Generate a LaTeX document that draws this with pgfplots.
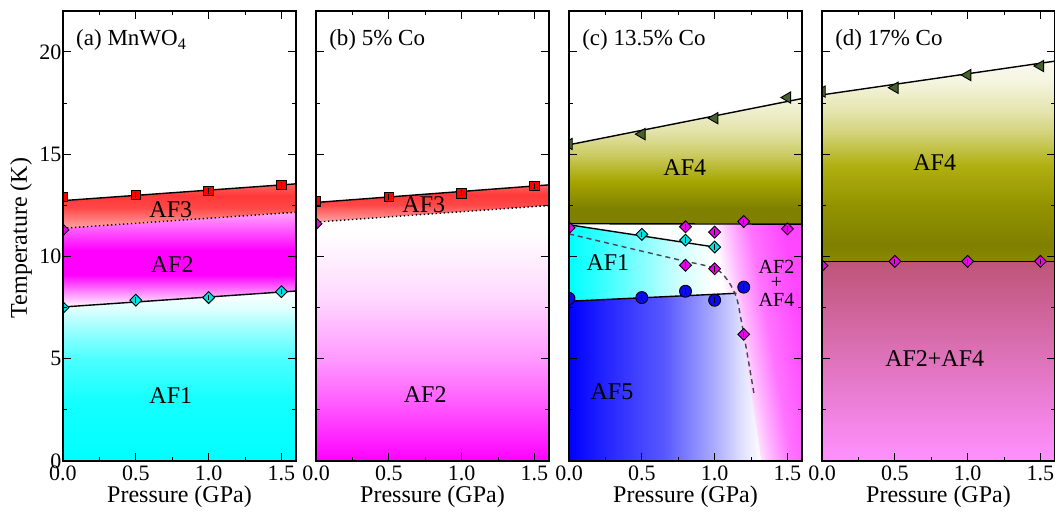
\documentclass[border=0pt]{standalone}
\usepackage{fontspec}
\setmainfont{Liberation Serif}
\usepackage{pgfplots}
\pgfplotsset{compat=1.18}

\definecolor{tri}{RGB}{72,98,44}
\definecolor{blu}{RGB}{10,10,235}
\definecolor{mag}{RGB}{235,0,235}
\definecolor{cyn}{RGB}{0,225,225}
\definecolor{rosetop}{RGB}{190,85,120}
\definecolor{pinkbot}{RGB}{255,145,255}

% vertical shadings: 25bp = bottom of path, 75bp = top of path
\pgfdeclareverticalshading{aAFone}{100bp}{color(0bp)=(cyan); color(25bp)=(cyan); color(43bp)=(cyan!92!white); color(55bp)=(cyan!70!white); color(64bp)=(cyan!38!white); color(70bp)=(cyan!12!white); color(75bp)=(white); color(100bp)=(white)}
\pgfdeclareverticalshading{aAFtwo}{100bp}{color(0bp)=(white); color(25bp)=(white); color(31bp)=(magenta!35!white); color(42bp)=(magenta); color(55bp)=(magenta); color(75bp)=(magenta!35!white); color(100bp)=(magenta!35!white)}
\pgfdeclareverticalshading{AFthree}{100bp}{color(0bp)=(red!35!white); color(25bp)=(red!35!white); color(48bp)=(red!72!white); color(62bp)=(red!78!white); color(75bp)=(red!60!white); color(100bp)=(red!60!white)}
\pgfdeclareverticalshading{bAFtwo}{100bp}{color(0bp)=(magenta); color(25bp)=(magenta); color(37bp)=(magenta!62!white); color(45bp)=(magenta!40!white); color(57bp)=(magenta!15!white); color(70bp)=(white); color(100bp)=(white)}
\pgfdeclareverticalshading{cAFfour}{100bp}{color(0bp)=(olive); color(25bp)=(olive); color(31bp)=(olive); color(42bp)=(olive!70!white); color(53bp)=(olive!40!white); color(62bp)=(olive!22!white); color(75bp)=(olive!8!white); color(100bp)=(olive!8!white)}
\pgfdeclareverticalshading{dAFfour}{100bp}{color(0bp)=(olive!92!white); color(25bp)=(olive!92!white); color(29bp)=(olive); color(39bp)=(olive!85!white); color(49bp)=(olive!62!white); color(57bp)=(olive!35!white); color(62bp)=(olive!22!white); color(70bp)=(olive!8!white); color(75bp)=(olive!4!white); color(100bp)=(olive!4!white)}
% horizontal shadings: 25bp = left of path, 75bp = right of path
\pgfdeclarehorizontalshading{cBack}{100bp}{color(0bp)=(white); color(25bp)=(white); color(60bp)=(white); color(64bp)=(magenta!30!white); color(68bp)=(magenta!55!white); color(75bp)=(magenta!72!white); color(100bp)=(magenta!72!white)}
\pgfdeclarehorizontalshading{cCyan}{100bp}{color(0bp)=(cyan); color(25bp)=(cyan); color(33bp)=(cyan!85!white); color(50bp)=(cyan!48!white); color(63bp)=(cyan!18!white); color(75bp)=(white); color(100bp)=(white)}
\pgfdeclarehorizontalshading{cBlue}{100bp}{color(0bp)=(blue); color(25bp)=(blue); color(35bp)=(blue!85!white); color(50bp)=(blue!65!white); color(62bp)=(blue!35!white); color(70bp)=(blue!12!white); color(75bp)=(white); color(100bp)=(white)}

\tikzset{
 lbl/.style={font=\fontsize{24}{24}\selectfont},
 slbl/.style={font=\fontsize{20}{20}\selectfont},
 ttl/.style={font=\fontsize{23}{23}\selectfont, anchor=west, inner sep=0pt},
}

\pgfplotsset{
 panel/.style={scale only axis, width=233pt, height=450pt,
  xmin=0, xmax=1.6, ymin=0, ymax=22,
  xtick={0,0.5,1,1.5}, xticklabels={0.0,0.5,1.0,1.5}, minor xtick={0.25,0.75,1.25},
  ytick={0,5,10,15,20}, minor ytick={2.5,7.5,12.5,17.5},
  xtick pos=both, ytick pos=both,
  tick align=inside, major tick length=8pt, minor tick length=4pt,
  every tick/.style={black, line width=1pt},
  axis line style={line width=1.6pt},
  axis on top, clip marker paths=true,
  ticklabel style={font=\fontsize{22}{22}\selectfont},
  xticklabel style={yshift=-1pt},
  yticklabel style={xshift=2pt},
  every axis x label/.style={at={(axis description cs:0.5,0)}, yshift=-36pt, anchor=center, font=\fontsize{24}{24}\selectfont},
  every axis y label/.style={at={(axis description cs:0,0.5)}, xshift=-42pt, yshift=-2pt, rotate=90, anchor=center, font=\fontsize{24}{24}\selectfont},
  xlabel={Pressure (GPa)},
  yticklabels={},
 },
 bline/.style={black, line width=1.4pt, mark=none},
 sq/.style={only marks, mark=square*, mark size=4.8pt, mark options={fill=red, draw=black, line width=0.9pt}},
 dia/.style={only marks, mark=square*, mark size=4.2pt, mark options={rotate=45, fill=#1, draw=black, line width=0.9pt}},
 trimark/.style={only marks, mark=triangle*, mark size=6.5pt, mark options={rotate=90, fill=tri, draw=black, line width=0.9pt}},
 circ/.style={only marks, mark=*, mark size=6pt, mark options={fill=blu, draw=black, line width=0.9pt}},
 ebar/.style={only marks, mark=|, mark size=2.8pt, mark options={black, line width=0.8pt}},
}

\begin{document}
\begin{tikzpicture}
\useasboundingbox (0pt,0pt) rectangle (1055pt,512pt);

% ---------------- (a) ----------------
\begin{axis}[panel, at={(63pt,51pt)}, anchor=south west, ylabel={Temperature (K)}, yticklabels={0,5,10,15,20}]
\addplot[draw=none, shade, shading=aAFone] coordinates {(0,0) (0,7.53) (1.6,8.31) (1.6,0)} -- cycle;
\addplot[draw=none, shade, shading=aAFtwo] coordinates {(0,7.53) (1.6,8.31) (1.6,12.16) (0,11.38)} -- cycle;
\addplot[draw=none, shade, shading=AFthree] coordinates {(0,11.38) (1.6,12.16) (1.6,13.55) (0,12.73)} -- cycle;
\addplot[bline] coordinates {(0,12.73) (1.6,13.55)};
\addplot[black, line width=1.4pt, dash pattern=on 1.4pt off 2.6pt] coordinates {(0,11.38) (1.6,12.16)};
\addplot[bline] coordinates {(0,7.53) (1.6,8.31)};
\addplot[sq] coordinates {(0,12.9) (0.5,13.0) (1.0,13.2) (1.5,13.5)};
\addplot[ebar] coordinates {(0,12.9) (0.5,13.0) (1.0,13.2) (1.5,13.5)};
\addplot[dia=mag] coordinates {(0,11.3)};
\addplot[dia=cyn] coordinates {(0,7.5) (0.5,7.86) (1.0,7.99) (1.5,8.28)};
\addplot[ebar] coordinates {(0.5,7.86) (1.0,7.99) (1.5,8.28)};
\node[lbl] at (axis cs:0.74,12.3) {AF3};
\node[lbl] at (axis cs:0.75,9.6) {AF2};
\node[lbl] at (axis cs:0.74,3.2) {AF1};
\node[ttl] at (rel axis cs:0.056,0.936) {(a) MnWO\textsubscript{4}};
\end{axis}

% ---------------- (b) ----------------
\begin{axis}[panel, at={(316pt,51pt)}, anchor=south west]
\addplot[draw=none, shade, shading=bAFtwo] coordinates {(0,0) (1.6,0) (1.6,12.49) (0,11.68)} -- cycle;
\addplot[draw=none, shade, shading=AFthree] coordinates {(0,11.68) (1.6,12.49) (1.6,13.5) (0,12.64)} -- cycle;
\addplot[bline] coordinates {(0,12.64) (1.6,13.5)};
\addplot[black, line width=1.4pt, dash pattern=on 1.4pt off 2.6pt] coordinates {(0,11.68) (1.6,12.49)};
\addplot[sq] coordinates {(0,12.69) (0.5,12.9) (1.0,13.09) (1.5,13.45)};
\addplot[ebar] coordinates {(0,12.69) (0.5,12.9) (1.0,13.09) (1.5,13.45)};
\addplot[dia=mag] coordinates {(0,11.6)};
\node[lbl] at (axis cs:0.74,12.54) {AF3};
\node[lbl] at (axis cs:0.75,3.23) {AF2};
\node[ttl] at (rel axis cs:0.056,0.936) {(b) 5\% Co};
\end{axis}

% ---------------- (c) ----------------
\begin{axis}[panel, at={(569pt,51pt)}, anchor=south west]
\addplot[draw=none, shade, shading=cBack, shading angle=10] coordinates {(0,0) (1.6,0) (1.6,11.6) (0,11.6)} -- cycle;
\addplot[draw=none, shade, shading=cCyan] coordinates {(0,7.81) (1.0,8.15) (1.0,10.46) (0,11.55)} -- cycle;
\addplot[draw=none, shade, shading=cBlue] coordinates {(0,0) (0,7.81) (1.15,8.2) (1.32,0)} -- cycle;
\addplot[draw=none, shade, shading=cAFfour] coordinates {(0,11.6) (1.6,11.6) (1.6,17.72) (0,15.46)} -- cycle;
\addplot[bline] coordinates {(0,15.46) (1.6,17.72)};
\addplot[bline] coordinates {(0,11.6) (1.6,11.58)};
\addplot[bline] coordinates {(0,11.55) (1.0,10.46)};
\addplot[bline] coordinates {(0,7.81) (1.15,8.2)};
\addplot[color={rgb,255:red,70;green,70;blue,80}, line width=1.4pt, dash pattern=on 5pt off 4pt, smooth, tension=0.5] coordinates {(0,11.1) (0.5,10.26) (0.77,9.81) (1.0,9.42) (1.09,8.83) (1.15,8.0) (1.18,6.97) (1.22,5.4) (1.27,3.3)};
\addplot[trimark] coordinates {(0,15.5) (0.5,15.98) (1.0,16.76) (1.5,17.77)};
\addplot[dia=mag] coordinates {(0,11.4) (0.8,11.45) (1.0,11.19) (1.2,11.71) (1.5,11.35)};
\addplot[ebar] coordinates {(0.8,11.45) (1.0,11.19) (1.2,11.71) (1.5,11.35)};
\addplot[dia=cyn] coordinates {(0.5,11.08) (0.8,10.8) (1.0,10.46)};
\addplot[ebar] coordinates {(0.5,11.08) (0.8,10.8) (1.0,10.46)};
\addplot[dia=mag] coordinates {(0.8,9.57) (1.0,9.40) (1.2,6.19)};
\addplot[ebar] coordinates {(0.8,9.57) (1.0,9.40) (1.2,6.19)};
\addplot[circ] coordinates {(0,7.95) (0.5,7.99) (0.8,8.3) (1.0,7.86) (1.2,8.5)};
\addplot[ebar] coordinates {(0.5,7.99) (0.8,8.3) (1.0,7.86) (1.2,8.5)};
\node[lbl] at (axis cs:0.795,14.34) {AF4};
\node[lbl] at (axis cs:0.267,9.71) {AF1};
\node[slbl] at (axis cs:1.425,9.47) {AF2};
\node[slbl] at (axis cs:1.425,8.69) {+};
\node[slbl] at (axis cs:1.425,7.86) {AF4};
\node[lbl] at (axis cs:0.295,3.38) {AF5};
\node[ttl] at (rel axis cs:0.056,0.936) {(c) 13.5\% Co};
\end{axis}

% ---------------- (d) ----------------
\begin{axis}[panel, at={(822pt,51pt)}, anchor=south west]
\addplot[draw=none, shade, shading=dAFfour] coordinates {(0,9.76) (1.6,9.76) (1.6,19.55) (0,17.9)} -- cycle;
\addplot[draw=none, top color=rosetop, bottom color=pinkbot] coordinates {(0,0) (1.6,0) (1.6,9.76) (0,9.76)} -- cycle;
\addplot[bline] coordinates {(0,17.9) (1.6,19.55)};
\addplot[bline] coordinates {(0,9.76) (1.6,9.76)};
\addplot[trimark] coordinates {(0,18.06) (0.5,18.25) (1.0,18.87) (1.5,19.31)};
\addplot[dia=mag] coordinates {(0,9.55) (0.5,9.76) (1.0,9.76) (1.5,9.76)};
\addplot[ebar] coordinates {(0.5,9.76) (1.0,9.76) (1.5,9.76)};
\node[lbl] at (axis cs:0.774,14.59) {AF4};
\node[lbl] at (axis cs:0.774,5.03) {AF2+AF4};
\node[ttl] at (rel axis cs:0.056,0.936) {(d) 17\% Co};
\end{axis}
\end{tikzpicture}
\end{document}
